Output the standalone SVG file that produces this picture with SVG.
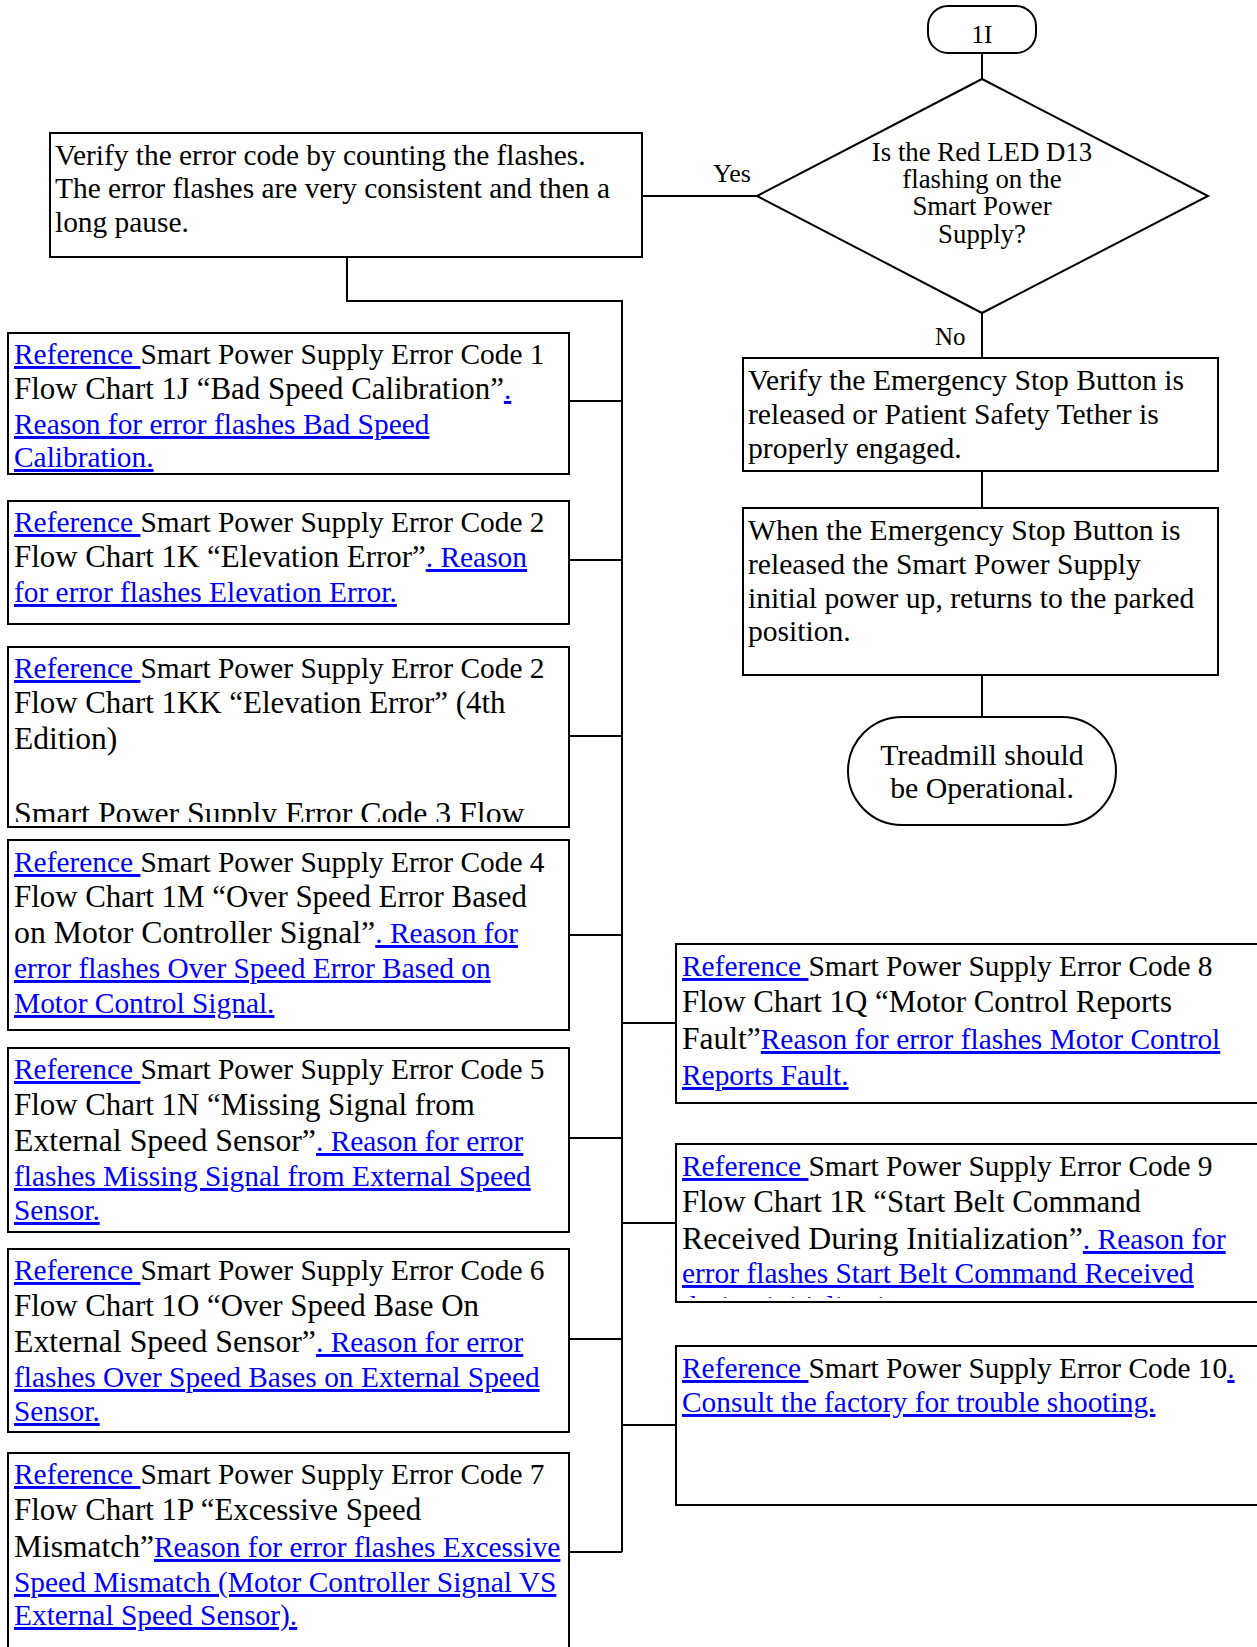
<svg xmlns="http://www.w3.org/2000/svg" width="1257" height="1647" viewBox="0 0 1257 1647">
<style>
.box{fill:#fff;stroke:#000;stroke-width:2}
.t{font-family:"Liberation Serif","Times New Roman",serif;font-size:29.4px;fill:#000}
.b2{font-size:30.9px}
.b3{font-size:31.8px}
.r{font-size:29.6px}
.s{font-size:26.8px}
.m{text-anchor:middle}
.lk{fill:#0000ff;text-decoration:underline;font-size:29.4px}
.c{stroke:#000;stroke-width:2;fill:none}
</style>
<defs>
<clipPath id="clip3"><rect x="8" y="647" width="561" height="175"/></clipPath>
<clipPath id="clip9"><rect x="676" y="1144" width="600" height="154"/></clipPath>
</defs>
<g id="connectors">
<path class="c" d="M982,53V79"/>
<path class="c" d="M642,196H757"/>
<path class="c" d="M982,313V358"/>
<path class="c" d="M982,471V508"/>
<path class="c" d="M982,675V717"/>
<path class="c" d="M347,257V301H622V1552"/>
<path class="c" d="M569,401H622M569,560H622M569,736H622M569,935H622M569,1138H622M569,1339H622M569,1552H622"/>
<path class="c" d="M622,1023H676M622,1223H676M622,1425H676"/>
<text class="t" x="713" y="182" style="font-size:26px">Yes</text>
<text class="t" x="935" y="345" style="font-size:25px">No</text>
</g>
<g id="start">
<rect class="box" x="928" y="6" width="108" height="47" rx="20"/>
<text class="t m" x="982" y="43" style="font-size:25px">1I</text>
</g>
<g id="decision">
<polygon class="box" points="982,79 1208,196 982,313 757,196"/>
<text class="t s m" x="982" y="161">Is the Red LED D13</text>
<text class="t s m" x="982" y="188">flashing on the</text>
<text class="t s m" x="982" y="215">Smart Power</text>
<text class="t s m" x="982" y="243">Supply?</text>
</g>
<g id="verify-code">
<rect class="box" x="50" y="133" width="592" height="124"/>
<text class="t" x="55" y="165">Verify the error code by counting the flashes.</text>
<text class="t" x="55" y="198">The error flashes are very consistent and then a</text>
<text class="t" x="55" y="232">long pause.</text>
</g>
<g id="verify-estop">
<rect class="box" x="743" y="358" width="475" height="113"/>
<text class="t r" x="748" y="390">Verify the Emergency Stop Button is</text>
<text class="t r" x="748" y="424">released or Patient Safety Tether is</text>
<text class="t r" x="748" y="458">properly engaged.</text>
</g>
<g id="estop-released">
<rect class="box" x="743" y="508" width="475" height="167"/>
<text class="t r" x="748" y="540">When the Emergency Stop Button is</text>
<text class="t r" x="748" y="574">released the Smart Power Supply</text>
<text class="t r" x="748" y="608">initial power up, returns to the parked</text>
<text class="t r" x="748" y="641">position.</text>
</g>
<g id="end">
<rect class="box" x="848" y="717" width="268" height="108" rx="54"/>
<text class="t m" x="982" y="765" style="font-size:29.8px">Treadmill should</text>
<text class="t m" x="982" y="798" style="font-size:29.8px">be Operational.</text>
</g>
<g id="code1">
<rect class="box" x="8" y="333" width="561" height="141"/>
<text class="t" x="14" y="364"><tspan class="lk">Reference </tspan>Smart Power Supply Error Code 1</text>
<text class="t b2" x="14" y="399">Flow Chart 1J “Bad Speed Calibration”<tspan class="lk">.</tspan></text>
<text class="t lk" x="14" y="434">Reason for error flashes Bad Speed</text>
<text class="t lk" x="14" y="467">Calibration.</text>
</g>
<g id="code2">
<rect class="box" x="8" y="501" width="561" height="123"/>
<text class="t" x="14" y="532"><tspan class="lk">Reference </tspan>Smart Power Supply Error Code 2</text>
<text class="t b2" x="14" y="567">Flow Chart 1K “Elevation Error”<tspan class="lk">. Reason</tspan></text>
<text class="t lk" x="14" y="602">for error flashes Elevation Error.</text>
</g>
<g id="code2-4th">
<rect class="box" x="8" y="647" width="561" height="180"/>
<g clip-path="url(#clip3)">
<text class="t" x="14" y="678"><tspan class="lk">Reference </tspan>Smart Power Supply Error Code 2</text>
<text class="t b2" x="14" y="713">Flow Chart 1KK “Elevation Error” (4th</text>
<text class="t" x="14" y="749" style="font-size:31.5px">Edition)</text>
<text class="t b3" x="14" y="824">Smart Power Supply Error Code 3 Flow</text>
</g>
</g>
<g id="code4">
<rect class="box" x="8" y="840" width="561" height="190"/>
<text class="t" x="14" y="872"><tspan class="lk">Reference </tspan>Smart Power Supply Error Code 4</text>
<text class="t b2" x="14" y="907">Flow Chart 1M “Over Speed Error Based</text>
<text class="t b3" x="14" y="943">on Motor Controller Signal”<tspan class="lk">. Reason for</tspan></text>
<text class="t lk" x="14" y="978">error flashes Over Speed Error Based on</text>
<text class="t lk" x="14" y="1013">Motor Control Signal.</text>
</g>
<g id="code5">
<rect class="box" x="8" y="1048" width="561" height="184"/>
<text class="t" x="14" y="1079"><tspan class="lk">Reference </tspan>Smart Power Supply Error Code 5</text>
<text class="t b2" x="14" y="1115">Flow Chart 1N “Missing Signal from</text>
<text class="t b3" x="14" y="1151">External Speed Sensor”<tspan class="lk">. Reason for error</tspan></text>
<text class="t lk" x="14" y="1186">flashes Missing Signal from External Speed</text>
<text class="t lk" x="14" y="1220">Sensor.</text>
</g>
<g id="code6">
<rect class="box" x="8" y="1249" width="561" height="183"/>
<text class="t" x="14" y="1280"><tspan class="lk">Reference </tspan>Smart Power Supply Error Code 6</text>
<text class="t b2" x="14" y="1316">Flow Chart 1O “Over Speed Base On</text>
<text class="t b3" x="14" y="1352">External Speed Sensor”<tspan class="lk">. Reason for error</tspan></text>
<text class="t lk" x="14" y="1387">flashes Over Speed Bases on External Speed</text>
<text class="t lk" x="14" y="1421">Sensor.</text>
</g>
<g id="code7">
<rect class="box" x="8" y="1453" width="561" height="220"/>
<text class="t" x="14" y="1484"><tspan class="lk">Reference </tspan>Smart Power Supply Error Code 7</text>
<text class="t b2" x="14" y="1520">Flow Chart 1P “Excessive Speed</text>
<text class="t" x="14" y="1557" style="font-size:31.5px">Mismatch”<tspan class="lk">Reason for error flashes Excessive</tspan></text>
<text class="t lk" x="14" y="1592">Speed Mismatch (Motor Controller Signal VS</text>
<text class="t lk" x="14" y="1625">External Speed Sensor).</text>
</g>
<g id="code8">
<rect class="box" x="676" y="944" width="600" height="159"/>
<text class="t" x="682" y="976"><tspan class="lk">Reference </tspan>Smart Power Supply Error Code 8</text>
<text class="t b2" x="682" y="1012">Flow Chart 1Q “Motor Control Reports</text>
<text class="t" x="682" y="1049" style="font-size:31.5px">Fault”<tspan class="lk">Reason for error flashes Motor Control</tspan></text>
<text class="t lk" x="682" y="1085">Reports Fault.</text>
</g>
<g id="code9">
<rect class="box" x="676" y="1144" width="600" height="158"/>
<g clip-path="url(#clip9)">
<text class="t" x="682" y="1176"><tspan class="lk">Reference </tspan>Smart Power Supply Error Code 9</text>
<text class="t b2" x="682" y="1212">Flow Chart 1R “Start Belt Command</text>
<text class="t b3" x="682" y="1249">Received During Initialization”<tspan class="lk">. Reason for</tspan></text>
<text class="t lk" x="682" y="1283">error flashes Start Belt Command Received</text>
<text class="t lk" x="682" y="1316">during initialization.</text>
</g>
</g>
<g id="code10">
<rect class="box" x="676" y="1346" width="600" height="159"/>
<text class="t" x="682" y="1378"><tspan class="lk">Reference </tspan>Smart Power Supply Error Code 10<tspan class="lk">.</tspan></text>
<text class="t lk" x="682" y="1412">Consult the factory for trouble shooting.</text>
</g>
</svg>
